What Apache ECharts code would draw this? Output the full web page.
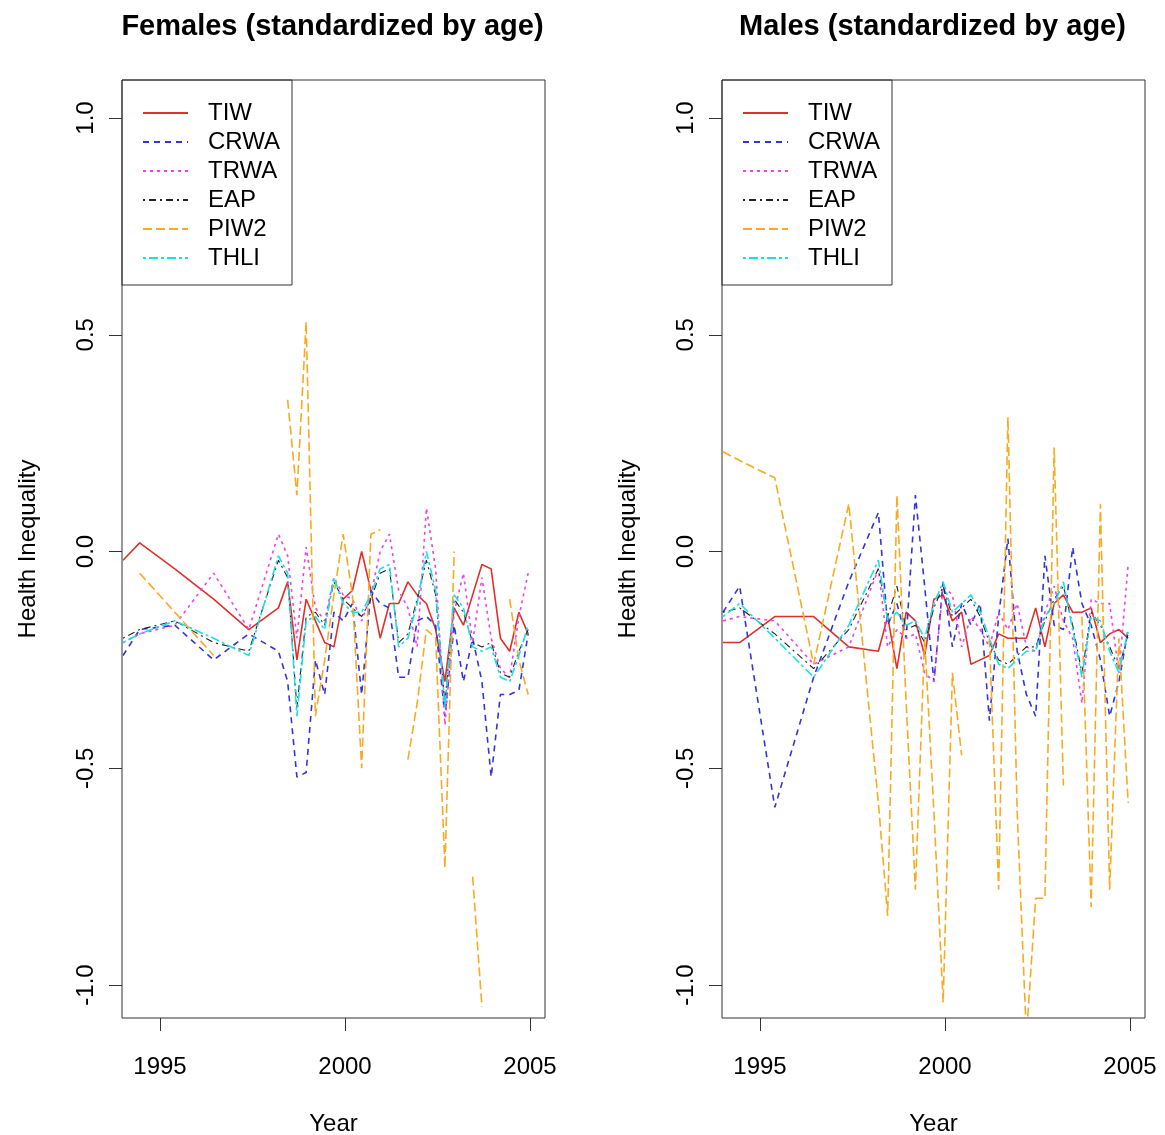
<!DOCTYPE html>
<html>
<head>
<meta charset="utf-8">
<script src="https://cdn.jsdelivr.net/npm/echarts@6/dist/echarts.min.js"></script>
<style>
html,body{margin:0;padding:0;background:#fff;}
#chart{width:1165px;height:1135px;}
</style>
</head>
<body>
<div id="chart"></div>
<script>
// ---- data ----
const seriesNames = ['TIW', 'CRWA', 'TRWA', 'EAP', 'PIW2', 'THLI'];
const panelTitles = ['Females (standardized by age)', 'Males (standardized by age)'];
const xTicks = [1995, 2000, 2005];
const yTicks = [-1, -0.5, 0, 0.5, 1];
const yTickLabels = ['-1.0', '-0.5', '0.0', '0.5', '1.0'];

const yearsF = [1994.0, 1994.45, 1995.4, 1996.45, 1997.4, 1998.2, 1998.45, 1998.7, 1998.95, 1999.2, 1999.45, 1999.7, 1999.95, 2000.2, 2000.45, 2000.7, 2000.95, 2001.2, 2001.45, 2001.7, 2001.95, 2002.2, 2002.45, 2002.7, 2002.95, 2003.2, 2003.45, 2003.7, 2003.95, 2004.2, 2004.45, 2004.7, 2004.95];
const yearsM = [1994.0, 1994.45, 1995.4, 1996.45, 1997.4, 1998.2, 1998.45, 1998.7, 1998.95, 1999.2, 1999.45, 1999.7, 1999.95, 2000.2, 2000.45, 2000.7, 2000.95, 2001.2, 2001.45, 2001.7, 2001.95, 2002.2, 2002.45, 2002.7, 2002.95, 2003.2, 2003.45, 2003.7, 2003.95, 2004.2, 2004.45, 2004.7, 2004.95];

// Females
const tiwF  = [-0.02, 0.02, -0.04, -0.11, -0.18, -0.13, -0.07, -0.25, -0.11, -0.16, -0.21, -0.22, -0.11, -0.09, 0.00, -0.09, -0.20, -0.12, -0.12, -0.07, -0.10, -0.12, -0.18, -0.30, -0.13, -0.17, -0.10, -0.03, -0.04, -0.20, -0.23, -0.14, -0.19];
const crwaF = [-0.24, -0.18, -0.17, -0.25, -0.19, -0.23, -0.30, -0.52, -0.51, -0.25, -0.33, -0.14, -0.16, -0.12, -0.33, -0.09, -0.12, -0.13, -0.29, -0.29, -0.16, -0.15, -0.17, -0.38, -0.17, -0.30, -0.20, -0.30, -0.52, -0.33, -0.33, -0.32, -0.19];
const trwaF = [-0.21, -0.19, -0.17, -0.05, -0.18, 0.04, -0.01, -0.20, 0.01, -0.13, -0.16, -0.06, -0.10, -0.11, -0.16, -0.10, 0.00, 0.04, -0.09, -0.13, -0.22, 0.10, -0.04, -0.40, -0.14, -0.05, -0.21, -0.06, -0.20, -0.27, -0.29, -0.15, -0.05];
const eapF  = [-0.20, -0.18, -0.16, -0.21, -0.23, -0.02, -0.06, -0.36, -0.15, -0.14, -0.17, -0.07, -0.11, -0.13, -0.15, -0.11, -0.05, -0.04, -0.21, -0.19, -0.11, -0.02, -0.10, -0.35, -0.11, -0.14, -0.21, -0.22, -0.21, -0.28, -0.29, -0.23, -0.18];
const piw2F = [null, -0.05, -0.14, -0.24, null, null, 0.35, 0.13, 0.53, -0.38, -0.25, -0.10, 0.04, -0.10, -0.50, 0.04, 0.05, null, null, -0.48, -0.35, -0.18, -0.20, -0.73, 0.00, null, -0.75, -1.05, null, null, -0.11, -0.25, -0.33];
const thliF = [-0.21, -0.19, -0.16, -0.20, -0.24, -0.01, -0.05, -0.38, -0.16, -0.15, -0.18, -0.06, -0.12, -0.14, -0.14, -0.10, -0.04, -0.03, -0.22, -0.20, -0.12, 0.00, -0.09, -0.36, -0.10, -0.13, -0.22, -0.23, -0.22, -0.29, -0.30, -0.24, -0.17];

// Males
const tiwM  = [-0.21, -0.21, -0.15, -0.15, -0.22, -0.23, -0.15, -0.27, -0.14, -0.16, -0.24, -0.11, -0.10, -0.16, -0.14, -0.26, -0.25, -0.24, -0.19, -0.20, -0.20, -0.20, -0.13, -0.22, -0.12, -0.10, -0.14, -0.14, -0.13, -0.21, -0.19, -0.18, -0.20];
const crwaM = [-0.14, -0.08, -0.59, -0.29, -0.07, 0.09, -0.17, -0.12, -0.20, 0.13, -0.08, -0.30, -0.07, -0.22, -0.12, -0.17, -0.12, -0.39, -0.15, 0.03, -0.23, -0.33, -0.38, -0.01, -0.17, -0.18, 0.01, -0.12, -0.17, -0.25, -0.38, -0.30, -0.18];
const trwaM = [-0.16, -0.15, -0.16, -0.26, -0.22, -0.04, -0.22, -0.18, -0.20, -0.19, -0.28, -0.30, -0.08, -0.10, -0.22, -0.15, -0.18, -0.22, -0.14, -0.18, -0.12, -0.22, -0.23, -0.14, -0.08, -0.16, -0.20, -0.35, -0.11, -0.12, -0.12, -0.28, -0.03];
const eapM  = [-0.14, -0.13, -0.19, -0.27, -0.18, -0.04, -0.15, -0.08, -0.18, -0.17, -0.21, -0.13, -0.08, -0.15, -0.13, -0.11, -0.15, -0.21, -0.25, -0.26, -0.24, -0.22, -0.22, -0.16, -0.11, -0.08, -0.17, -0.28, -0.14, -0.17, -0.22, -0.27, -0.19];
const piw2M = [0.23, 0.21, 0.17, -0.26, 0.11, -0.58, -0.84, 0.13, -0.35, -0.78, -0.20, -0.60, -1.04, -0.28, -0.47, null, null, -0.20, -0.78, 0.31, -0.60, -1.12, -0.80, -0.80, 0.24, -0.54, null, -0.15, -0.82, 0.11, -0.78, -0.20, -0.58];
const thliM = [-0.15, -0.12, -0.20, -0.29, -0.17, -0.02, -0.16, -0.14, -0.17, -0.16, -0.20, -0.12, -0.07, -0.14, -0.12, -0.10, -0.14, -0.20, -0.26, -0.27, -0.25, -0.23, -0.23, -0.15, -0.12, -0.07, -0.18, -0.29, -0.15, -0.16, -0.23, -0.28, -0.18];

// ---- styling ----
const FONT = '"Liberation Sans", Arial, Helvetica, sans-serif';
const styles = {
  TIW:  { color: '#e0302a', type: 'solid', width: 1.6 },
  CRWA: { color: '#3434d8', type: [6, 5], width: 1.6 },
  TRWA: { color: '#f040f0', type: [3, 4], width: 1.6 },
  EAP:  { color: '#222222', type: [2, 4, 7, 4], width: 1.1 },
  PIW2: { color: '#f9aa22', type: [9, 4], width: 1.6 },
  THLI: { color: '#1fdde6', type: [3, 3, 9, 3], width: 1.6 }
};
const panels = [
  { years: yearsF, data: [tiwF, crwaF, trwaF, eapF, piw2F, thliF], left: 122 },
  { years: yearsM, data: [tiwM, crwaM, trwaM, eapM, piw2M, thliM], left: 722 }
];
const gridTop = 80, gridW = 423, gridH = 938;

const chart = echarts.init(document.getElementById('chart'), null, { renderer: 'canvas' });

const grids = [], xAxes = [], yAxes = [], series = [], titles = [], legends = [], graphics = [];
panels.forEach((p, pi) => {
  grids.push({ left: p.left, top: gridTop, width: gridW, height: gridH, show: true,
    outerBoundsMode: 'none', containLabel: false,
    borderColor: '#333', borderWidth: 1, backgroundColor: 'transparent' });
  xAxes.push({
    type: 'value', gridIndex: pi, min: 1993.973, max: 2005.405, position: 'bottom',
    splitLine: { show: false }, axisLine: { show: false, onZero: false },
    axisTick: { show: true, length: 13, customValues: xTicks, lineStyle: { color: '#333', width: 1 } },
    axisLabel: { customValues: xTicks, fontSize: 24, color: '#000', fontFamily: FONT, margin: 37,
      formatter: v => String(v) },
    name: 'Year', nameLocation: 'middle', nameGap: 94,
    nameTextStyle: { fontSize: 24, color: '#000', fontFamily: FONT }
  });
  yAxes.push({
    type: 'value', gridIndex: pi, min: -1.0761, max: 1.0877, position: 'left',
    splitLine: { show: false }, axisLine: { show: false, onZero: false },
    axisTick: { show: true, length: 13, customValues: yTicks, lineStyle: { color: '#333', width: 1 } },
    axisLabel: { customValues: yTicks, fontSize: 24, color: '#000', fontFamily: FONT, margin: 24, rotate: 90,
      formatter: v => { const i = yTicks.findIndex(t => Math.abs(t - v) < 1e-9); return i >= 0 ? yTickLabels[i] : ''; } },
    name: 'Health Inequality', nameLocation: 'middle', nameGap: 82, nameRotate: 90,
    nameTextStyle: { fontSize: 24, color: '#000', fontFamily: FONT }
  });
  seriesNames.forEach((nm, si) => {
    series.push({
      name: nm, type: 'line', xAxisIndex: pi, yAxisIndex: pi,
      data: p.years.map((yr, k) => [yr, p.data[si][k]]),
      symbol: 'none', showSymbol: false, connectNulls: false, clip: true,
      lineStyle: { color: styles[nm].color, width: styles[nm].width, type: styles[nm].type },
      itemStyle: { color: styles[nm].color },
      emphasis: { disabled: true }, silent: true
    });
  });
  titles.push({
    text: panelTitles[pi], left: p.left + gridW / 2 - 6, top: 7, textAlign: 'center',
    textStyle: { fontSize: 29, fontWeight: 'bold', color: '#000', fontFamily: FONT }
  });
  legends.push({
    data: seriesNames, orient: 'vertical', left: p.left + 15, top: 96,
    itemWidth: 45, itemHeight: 14, itemGap: 5,
    itemStyle: { color: 'rgba(0,0,0,0)', borderWidth: 0, opacity: 0 },
    textStyle: { fontSize: 24, color: '#000', fontFamily: FONT, lineHeight: 24, padding: [0, 0, 0, 15] },
    selectedMode: false
  });
  graphics.push({
    type: 'rect', silent: true, z: 100,
    shape: { x: p.left, y: gridTop, width: 170, height: 205 },
    style: { fill: 'none', stroke: '#333', lineWidth: 1 }
  });
});

chart.setOption({
  animation: false,
  backgroundColor: '#fff',
  title: titles,
  legend: legends,
  grid: grids,
  xAxis: xAxes,
  yAxis: yAxes,
  series: series,
  graphic: graphics
});
</script>
</body>
</html>
